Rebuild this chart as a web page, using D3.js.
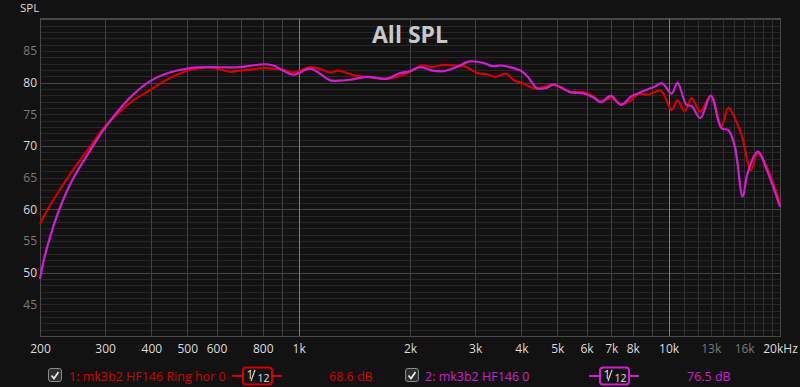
<!DOCTYPE html>
<html>
<head>
<meta charset="utf-8">
<script src="https://cdn.jsdelivr.net/npm/d3@7"></script>
<style>
  html, body { margin: 0; padding: 0; background: #121212; }
  svg { display: block; }
  text { font-family: "Open Sans", "Noto Sans", sans-serif; }
</style>
</head>
<body>
<script>
// series 1: mk3b2 HF146 Ring hor 0 (red)
var redFreq = [200, 210, 223, 243, 270, 300, 330, 350, 396, 448, 509, 577, 620, 653, 692, 750, 802, 856, 908, 960,
    1000, 1073, 1142, 1218, 1282, 1420, 1533, 1693, 1843, 2000, 2146, 2303, 2458, 2666, 2804, 3046, 3233, 3400, 3644,
    3834, 4000, 4222, 4400, 4496, 4882, 5307, 5425, 5890, 6279, 6549, 6978, 7435, 7920, 8266, 8806, 9532, 10190,
    10570, 11050, 11540, 12180, 13010, 13890, 14500, 15500, 15850, 16700, 17410, 18570, 20000];
var redSpl = [57.7, 60.0, 62.5, 65.8, 69.5, 73.1, 75.5, 76.8, 78.8, 80.7, 82.0, 82.4, 82.0, 81.7, 81.9, 82.1, 82.3, 82.2, 82.0, 81.6,
    81.8, 82.45, 82.15, 81.6, 81.9, 81.1, 80.9, 80.6, 80.9, 81.7, 82.7, 82.45, 82.8, 82.7, 82.6, 81.5, 81.3, 80.9, 81.4,
    80.3, 80.0, 79.3, 79.0, 79.15, 79.65, 78.8, 78.5, 78.5, 77.8, 77.0, 77.55, 76.6, 77.2, 78.2, 78.1, 78.7, 75.7,
    77.2, 75.45, 77.55, 75.45, 77.9, 73.05, 76.0, 72.8, 71.2, 66.2, 68.85, 66.2, 60.9];

// series 2: mk3b2 HF146 0 (magenta)
var magFreq = [200, 206, 215, 223, 243, 270, 300, 350, 396, 448, 509, 577, 650, 692, 750, 802, 856, 908, 968,
    1073, 1142, 1218, 1282, 1374, 1533, 1729, 1882, 2000, 2133, 2303, 2458, 2666, 2907, 3161, 3333, 3522, 3721,
    3975, 4150, 4300, 4400, 4670, 4882, 5425, 5890, 6279, 6549, 6978, 7435, 7920, 8266, 8806, 9200, 9600, 10190,
    10570, 11170, 11540, 12180, 13000, 13890, 14500, 15100, 15850, 16350, 17410, 18570, 20000];
var magSpl = [49.0, 52.6, 56.4, 59.2, 64.3, 68.8, 72.9, 77.6, 80.2, 81.6, 82.3, 82.45, 82.4, 82.45, 82.7, 82.9, 82.7, 81.9, 81.25,
    82.2, 81.4, 80.35, 80.3, 80.45, 80.9, 80.6, 81.5, 81.8, 82.45, 81.9, 81.8, 82.45, 83.35, 83.1, 82.6, 82.7, 82.45,
    81.9, 81.0, 79.8, 79.15, 79.15, 79.7, 78.5, 78.3, 77.6, 76.9, 77.9, 76.5, 77.8, 78.3, 79.0, 79.4, 79.9, 78.25,
    79.95, 76.5, 76.3, 74.4, 77.95, 72.8, 72.5, 69.9, 62.0, 65.7, 69.1, 65.7, 60.4];

var xTickValues = [200, 300, 400, 500, 600, 800, 1000, 2000, 3000, 4000, 5000, 6000, 7000, 8000, 10000, 13000, 16000, 20000];
var xTickLabels = ["200", "300", "400", "500", "600", "800", "1k", "2k", "3k", "4k", "5k", "6k", "7k", "8k", "10k", "13k", "16k", "20kHz"];
var yTickValues = [45, 50, 55, 60, 65, 70, 75, 80, 85];

var legendNames = ["1: mk3b2 HF146 Ring hor 0", "2: mk3b2 HF146 0"];
var legendLevels = ["68.6 dB", "76.5 dB"];

var width = 800,
    height = 387,
    plotLeft = 40, plotRight = 780, plotTop = 18, plotBottom = 336;

var red = "#d40000",
    magenta = "#d21ed2";

var svg = d3.select("body").append("svg")
    .attr("width", width)
    .attr("height", height);

svg.append("rect").attr("width", width).attr("height", height).attr("fill", "#121212");

var x = d3.scaleLog().domain([200, 20000]).range([plotLeft, plotRight]);
var y = d3.scaleLinear().domain([40, 90.2]).range([plotBottom, plotTop]);

var grid = svg.append("g");

// horizontal grid, every dB, brighter every 10
grid.selectAll("line.h")
    .data(d3.range(41, 91))
    .enter().append("line")
    .attr("x1", plotLeft).attr("x2", plotRight)
    .attr("y1", function (d) { return Math.round(y(d)) + 0.5; })
    .attr("y2", function (d) { return Math.round(y(d)) + 0.5; })
    .attr("stroke", function (d) { return d % 10 === 0 ? "#454545" : "#272727"; })
    .attr("stroke-width", 1);

// vertical grid
var vLines = d3.range(200, 1000, 100).concat(d3.range(1000, 10000, 1000), d3.range(10000, 20001, 1000));
grid.selectAll("line.v")
    .data(vLines)
    .enter().append("line")
    .attr("y1", plotTop).attr("y2", plotBottom)
    .attr("x1", function (d) { return Math.round(x(d)) + 0.5; })
    .attr("x2", function (d) { return Math.round(x(d)) + 0.5; })
    .attr("stroke", function (d) {
        if (d === 1000 || d === 10000) return "#7c7c7c";
        if (d > 10000 && d < 20000) return "#303030";
        return "#404040";
    });

// frame
svg.append("rect")
    .attr("x", plotLeft + 0.5).attr("y", plotTop + 0.5)
    .attr("width", plotRight - plotLeft).attr("height", plotBottom - plotTop)
    .attr("fill", "none").attr("stroke", "#4a4a4a");

// axes
var xAxis = d3.axisBottom(x)
    .tickValues(xTickValues)
    .tickSize(0)
    .tickPadding(8)
    .tickFormat(function (d, i) { return xTickLabels[i]; });

var gx = svg.append("g").attr("transform", "translate(0," + plotBottom + ")").call(xAxis);
gx.select(".domain").remove();
gx.selectAll("text")
    .attr("font-size", "12px")
    .attr("font-family", "'Open Sans', sans-serif")
    .attr("fill", function (d) { return (d === 13000 || d === 16000) ? "#7a7a7a" : "#dcdcdc"; });

var yAxis = d3.axisLeft(y)
    .tickValues(yTickValues)
    .tickSize(0)
    .tickPadding(3);

var gy = svg.append("g").attr("transform", "translate(" + plotLeft + ",0)").call(yAxis);
gy.select(".domain").remove();
gy.selectAll("text")
    .attr("font-size", "12px")
    .attr("font-family", "'Open Sans', sans-serif")
    .attr("fill", function (d) { return d % 10 === 0 ? "#dcdcdc" : "#7a7a7a"; });

svg.append("text")
    .attr("x", 20).attr("y", 12)
    .attr("font-size", "11.5px")
    .attr("fill", "#dcdcdc")
    .text("SPL");

// title
svg.append("text")
    .attr("x", 410).attr("y", 43)
    .attr("text-anchor", "middle")
    .attr("font-size", "23px")
    .attr("font-weight", "bold")
    .attr("fill", "#c8c8c8")
    .text("All SPL");

// curves
var line = d3.line()
    .x(function (d) { return x(d[0]); })
    .y(function (d) { return y(d[1]); })
    .curve(d3.curveCatmullRom.alpha(0.5));

var plot = svg.append("g");
plot.append("path")
    .datum(d3.zip(redFreq, redSpl))
    .attr("d", line)
    .attr("fill", "none")
    .attr("stroke", red)
    .attr("stroke-width", 2.2);

plot.append("path")
    .datum(d3.zip(magFreq, magSpl))
    .attr("d", line)
    .attr("fill", "none")
    .attr("stroke", magenta)
    .attr("stroke-width", 2.2);

// legend
var legendY = 376;
var legendItems = [
    { color: red, check: 48, name: 69, box: 232, level: 329 },
    { color: magenta, check: 405, name: 425, box: 589, level: 687 }
];

legendItems.forEach(function (it, i) {
    var g = svg.append("g");
    g.append("rect")
        .attr("x", it.check + 0.5).attr("y", legendY - 7.5)
        .attr("width", 13).attr("height", 13)
        .attr("rx", 2.5)
        .attr("fill", "#2e2e2e")
        .attr("stroke", "#8a8a8a");
    g.append("path")
        .attr("d", "M" + (it.check + 3.5) + "," + (legendY - 0.5) +
            " L" + (it.check + 6) + "," + (legendY + 2.5) +
            " L" + (it.check + 10.5) + "," + (legendY - 4))
        .attr("fill", "none")
        .attr("stroke", "#e8e8e8")
        .attr("stroke-width", 1.8);
    g.append("text")
        .attr("x", it.name).attr("y", legendY + 4.5)
        .attr("font-size", "12.5px")
        .attr("fill", it.color)
        .text(legendNames[i]);

    // smoothing badge
    g.append("line")
        .attr("x1", it.box).attr("x2", it.box + 50)
        .attr("y1", legendY).attr("y2", legendY)
        .attr("stroke", it.color).attr("stroke-width", 2);
    g.append("rect")
        .attr("x", it.box + 11).attr("y", legendY - 8.5)
        .attr("width", 29).attr("height", 17)
        .attr("rx", 3)
        .attr("fill", "#121212")
        .attr("stroke", it.color).attr("stroke-width", 2);
    g.append("text")
        .attr("x", it.box + 14.5).attr("y", legendY + 2.5)
        .attr("font-size", "12px")
        .attr("fill", "#e0e0e0")
        .text("1");
    g.append("line")
        .attr("x1", it.box + 19).attr("y1", legendY + 5)
        .attr("x2", it.box + 23).attr("y2", legendY - 6)
        .attr("stroke", "#e0e0e0").attr("stroke-width", 1.1);
    g.append("text")
        .attr("x", it.box + 25.5).attr("y", legendY + 6)
        .attr("font-size", "10.5px")
        .attr("fill", "#e0e0e0")
        .text("12");

    g.append("text")
        .attr("x", it.level).attr("y", legendY + 4.5)
        .attr("font-size", "12.5px")
        .attr("fill", it.color)
        .text(legendLevels[i]);
});
</script>
</body>
</html>
